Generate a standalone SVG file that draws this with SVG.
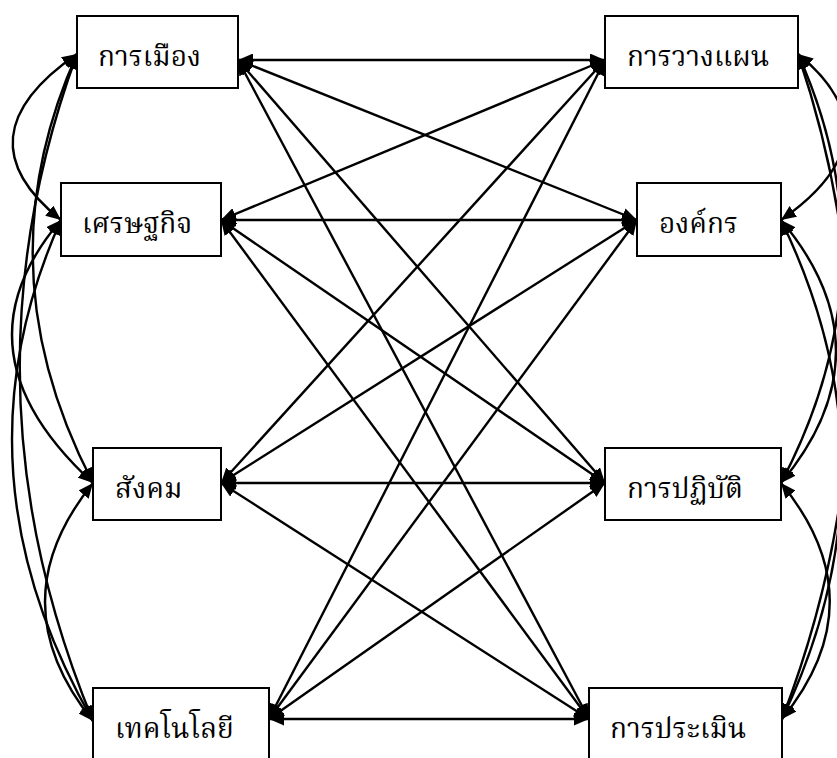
<svg xmlns="http://www.w3.org/2000/svg" width="837" height="758" viewBox="0 0 837 758">
<style>
.box{fill:#fff;stroke:#000;stroke-width:2}
.lbl{font-family:"Noto Serif Thai","Noto Sans Thai","Noto Sans","DejaVu Sans",sans-serif;font-size:28px;fill:#000}
.c{fill:none;stroke:#000;stroke-width:2.4;marker-start:url(#ah);marker-end:url(#ah)}
</style>
<defs>
<marker id="ah" markerUnits="userSpaceOnUse" markerWidth="16" markerHeight="13" refX="15" refY="6.5" orient="auto-start-reverse">
<path d="M0,0 L15,6.5 L0,13 z" fill="#000"/>
</marker>
</defs>
<g id="connectors">
<path class="c" d="M77,54 Q-43,137 61,220"/>
<path class="c" d="M77,54 Q-19,268 93,483"/>
<path class="c" d="M77,54 Q-45,387 93,721"/>
<path class="c" d="M61,220 Q-51,351 93,483"/>
<path class="c" d="M61,220 Q-51,470 93,721"/>
<path class="c" d="M93,483 Q-3,602 93,721"/>
<path class="c" d="M798,54 Q900,137 781,220"/>
<path class="c" d="M798,54 Q894,268 781,483"/>
<path class="c" d="M798,54 Q910,386 782,719"/>
<path class="c" d="M781,220 Q891,351 781,483"/>
<path class="c" d="M781,220 Q902,469 782,719"/>
<path class="c" d="M781,483 Q878,601 782,719"/>
<path class="c" d="M238,60 L605,60"/>
<path class="c" d="M238,60 L637,220"/>
<path class="c" d="M238,60 L605,483"/>
<path class="c" d="M238,60 L589,719"/>
<path class="c" d="M221,220 L605,60"/>
<path class="c" d="M221,220 L637,220"/>
<path class="c" d="M221,220 L605,483"/>
<path class="c" d="M221,220 L589,719"/>
<path class="c" d="M221,483 L605,60"/>
<path class="c" d="M221,483 L637,220"/>
<path class="c" d="M221,483 L605,483"/>
<path class="c" d="M221,483 L589,719"/>
<path class="c" d="M269,719 L605,60"/>
<path class="c" d="M269,719 L637,220"/>
<path class="c" d="M269,719 L605,483"/>
<path class="c" d="M269,719 L589,719"/>
</g>
<g id="n1"><rect class="box" x="77" y="16" width="161" height="72"/><text class="lbl" x="98" y="66">การเมือง</text></g>
<g id="n2"><rect class="box" x="61" y="183" width="160" height="73"/><text class="lbl" x="82" y="233">เศรษฐกิจ</text></g>
<g id="n3"><rect class="box" x="93" y="448" width="128" height="72"/><text class="lbl" x="115" y="498">สังคม</text></g>
<g id="n4"><rect class="box" x="93" y="688" width="176" height="72"/><text class="lbl" x="115" y="738">เทคโนโลยี</text></g>
<g id="n5"><rect class="box" x="605" y="16" width="193" height="72"/><text class="lbl" x="627" y="66">การวางแผน</text></g>
<g id="n6"><rect class="box" x="637" y="183" width="144" height="73"/><text class="lbl" x="659" y="233">องค์กร</text></g>
<g id="n7"><rect class="box" x="605" y="448" width="176" height="72"/><text class="lbl" x="627" y="498">การปฏิบัติ</text></g>
<g id="n8"><rect class="box" x="589" y="688" width="193" height="72"/><text class="lbl" x="610" y="738">การประเมิน</text></g>
</svg>
